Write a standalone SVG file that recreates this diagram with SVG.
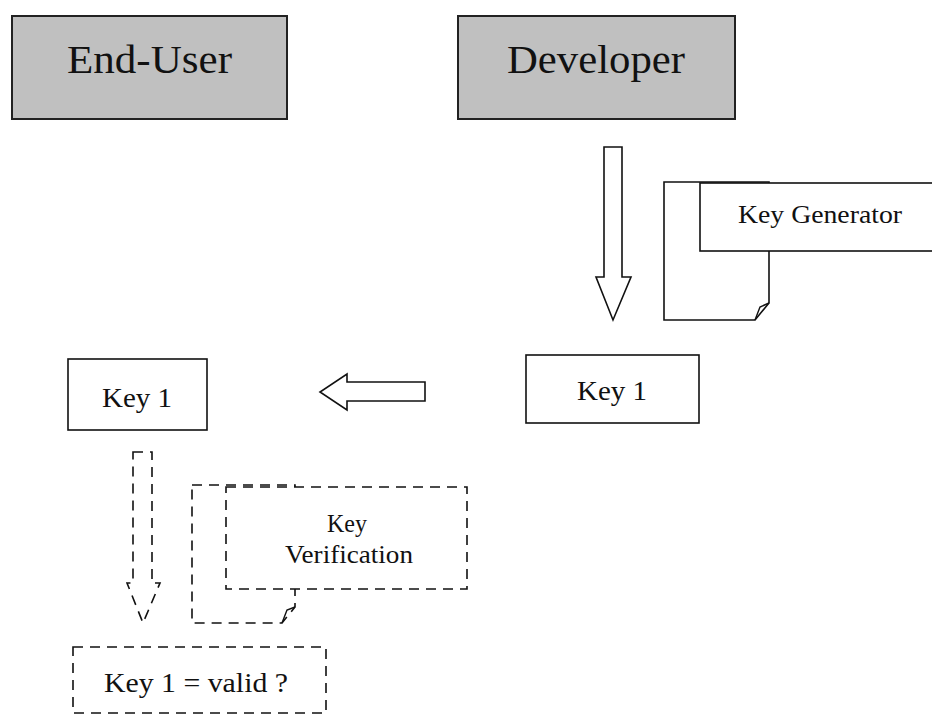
<svg xmlns="http://www.w3.org/2000/svg" width="932" height="715" viewBox="0 0 932 715">
  <style>
    .actor { fill: #c0c0c0; stroke: #222; stroke-width: 2; }
    .box { fill: #fff; stroke: #111; stroke-width: 1.6; }
    .dash { fill: #fff; stroke: #111; stroke-width: 1.6; stroke-dasharray: 10 7; }
    .arrow { fill: #fff; stroke: #111; stroke-width: 1.6; stroke-linejoin: miter; }
    .arrow-dash { fill: none; stroke: #111; stroke-width: 1.6; stroke-dasharray: 10 7; }
    text { font-family: "Liberation Serif", "DejaVu Serif", serif; fill: #111; text-anchor: middle; }
    .big { font-size: 40px; }
    .mid { font-size: 27px; }
    .doc { font-size: 25px; }
  </style>

  <rect width="932" height="715" fill="#fff"/>

  <g id="end-user">
    <rect class="actor" x="12" y="16" width="275" height="103"/>
    <text class="big" x="149.5" y="73" textLength="165" lengthAdjust="spacingAndGlyphs">End-User</text>
  </g>

  <g id="developer">
    <rect class="actor" x="458" y="16" width="277" height="103"/>
    <text class="big" x="596" y="73" textLength="178" lengthAdjust="spacingAndGlyphs">Developer</text>
  </g>

  <g id="key-generator">
    <path class="box" d="M664,182 H769 V303 L755,320 H664 Z"/>
    <path fill="none" stroke="#111" stroke-width="1.4" d="M755,320 L760,307 L769,303"/>
    <rect class="box" x="700" y="183" width="240" height="68"/>
    <text class="doc" x="820" y="223" textLength="164" lengthAdjust="spacingAndGlyphs">Key Generator</text>
  </g>

  <g id="key1-developer">
    <rect class="box" x="526" y="355" width="173" height="68"/>
    <text class="mid" x="612" y="400" textLength="70" lengthAdjust="spacingAndGlyphs">Key 1</text>
  </g>

  <g id="key1-end-user">
    <rect class="box" x="68" y="359" width="139" height="71"/>
    <text class="mid" x="137" y="407" textLength="70" lengthAdjust="spacingAndGlyphs">Key 1</text>
  </g>

  <g id="key-verification">
    <path class="dash" d="M192,485 H295 V607 L282,623 H192 Z"/>
    <path fill="none" stroke="#111" stroke-width="1.4" d="M282,623 L287,610 L295,607"/>
    <rect class="dash" x="226" y="487" width="241" height="102"/>
    <text class="doc" x="347" y="532" textLength="40" lengthAdjust="spacingAndGlyphs">Key</text>
    <text class="doc" x="349" y="563" textLength="128" lengthAdjust="spacingAndGlyphs">Verification</text>
  </g>

  <g id="key1-valid">
    <rect class="dash" x="73" y="647" width="253" height="66"/>
    <text class="mid" x="196" y="692" textLength="184" lengthAdjust="spacingAndGlyphs">Key 1 = valid ?</text>
  </g>

  <g id="connectors">
    <!-- block arrow: developer generates key -->
    <path class="arrow" d="M604,147 H622 V277 H631 L613,320 L596,277 H604 Z"/>
    <!-- block arrow: key handed to end-user -->
    <path class="arrow" d="M425,382 V401 H347 V410 L320,392 L347,374 V382 Z"/>
    <!-- dashed block arrow: key goes to verification -->
    <path class="arrow-dash" d="M133,452 H152 V583 H160 L143,623 L127,583 H133 Z"/>
  </g>
</svg>
